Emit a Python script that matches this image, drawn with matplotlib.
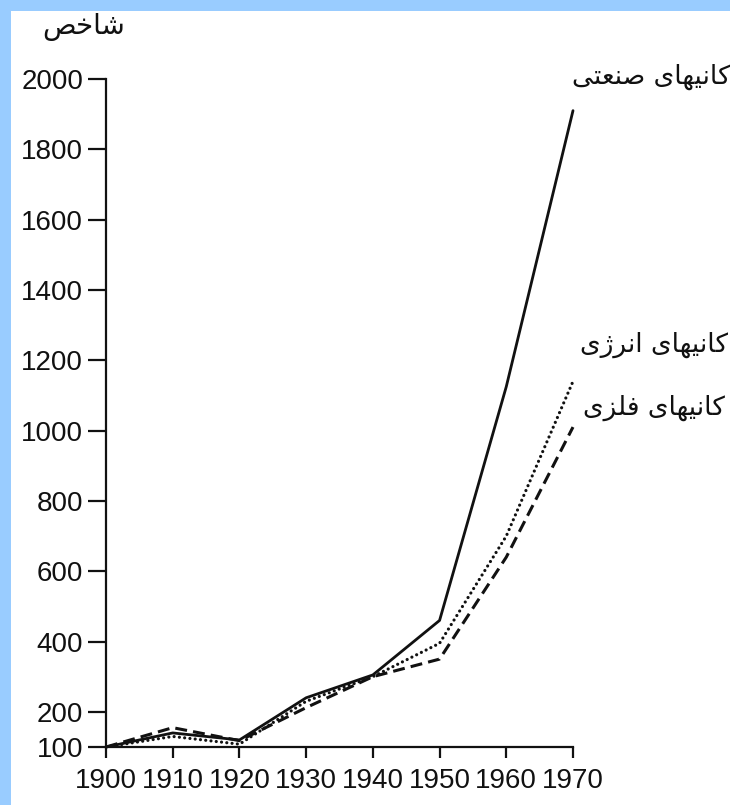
import matplotlib
matplotlib.use("Agg")
import matplotlib.pyplot as plt
from matplotlib.patches import Rectangle

# ---- data ----
years = [1900, 1910, 1920, 1930, 1940, 1950, 1960, 1970]
industrial = [100, 140, 120, 240, 305, 460, 1125, 1910]   # کانیهای صنعتی (solid)
energy = [100, 130, 108, 230, 300, 395, 700, 1140]         # کانیهای انرژی (dotted)
metal = [100, 155, 118, 212, 300, 350, 640, 1010]          # کانیهای فلزی (dashed)
yticks = [100, 200, 400, 600, 800, 1000, 1200, 1400, 1600, 1800, 2000]
xticks = years


def vis(cps):
    """Arabic presentation forms in logical order -> visual (LTR) string."""
    return ''.join(chr(c) for c in reversed(cps))

SP = 0x20
kaniha = [0xFB90, 0xFE8E, 0xFEE7, 0xFBFF, 0xFEEC, 0xFE8E, 0xFBFC]
label_ind = vis(kaniha + [SP] + [0xFEBB, 0xFEE8, 0xFECC, 0xFE98, 0xFBFD])
label_en = vis(kaniha + [SP] + [0xFE8D, 0xFEE7, 0xFEAE, 0xFB8A, 0xFBFC])
label_met = vis(kaniha + [SP] + [0xFED3, 0xFEE0, 0xFEB0, 0xFBFC])
label_idx = vis([0xFEB7, 0xFE8E, 0xFEA7, 0xFEBA])

W, H = 730, 805
fig = plt.figure(figsize=(W / 100, H / 100), dpi=100)
fig.patch.set_facecolor('#99CCFF')
fig.patches.append(Rectangle((11 / W, 0), 1, (H - 11) / H, transform=fig.transFigure,
                             facecolor='white', edgecolor='none', zorder=-5))

ax = fig.add_axes([106 / W, (H - 747) / H, (573 - 106) / W, (747 - 79) / H])
ax.set_facecolor('none')
ax.set_zorder(2)

ink = '#111111'
ax.plot(years, industrial, color=ink, lw=2.0, solid_capstyle='round',
        solid_joinstyle='round', clip_on=False)
ax.plot(years, energy, color=ink, lw=2.3, linestyle=(0, (0.01, 1.65)),
        dash_capstyle='round', clip_on=False)
ax.plot(years, metal, color=ink, lw=2.2, linestyle=(0, (3.9, 2.0)), clip_on=False)

ax.set_xlim(1900, 1970)
ax.set_ylim(100, 2000)
ax.set_xticks(xticks)
ax.set_yticks(yticks)
for s in ['top', 'right']:
    ax.spines[s].set_visible(False)
for s in ['left', 'bottom']:
    ax.spines[s].set_linewidth(1.6)
    ax.spines[s].set_color(ink)

tickfont = 'Liberation Sans'
ax.tick_params(axis='x', direction='out', length=8, width=1.6, pad=7, labelsize=20, colors=ink)
ax.tick_params(axis='y', direction='out', length=13, width=1.6, pad=3.5, labelsize=20, colors=ink)
for lab in ax.get_xticklabels() + ax.get_yticklabels():
    lab.set_fontfamily(tickfont)

pfont = ['DejaVu Sans']
fig.text(731 / W, 1 - 77 / H, label_ind, ha='right', va='center', fontsize=19, family=pfont, color=ink)
fig.text(728 / W, 1 - 345 / H, label_en, ha='right', va='center', fontsize=19, family=pfont, color=ink)
fig.text(725 / W, 1 - 408 / H, label_met, ha='right', va='center', fontsize=19, family=pfont, color=ink)
fig.text(84 / W, 1 - 27 / H, label_idx, ha='center', va='center', fontsize=20, family=pfont, color=ink)

fig.savefig('out.png', dpi=100)
